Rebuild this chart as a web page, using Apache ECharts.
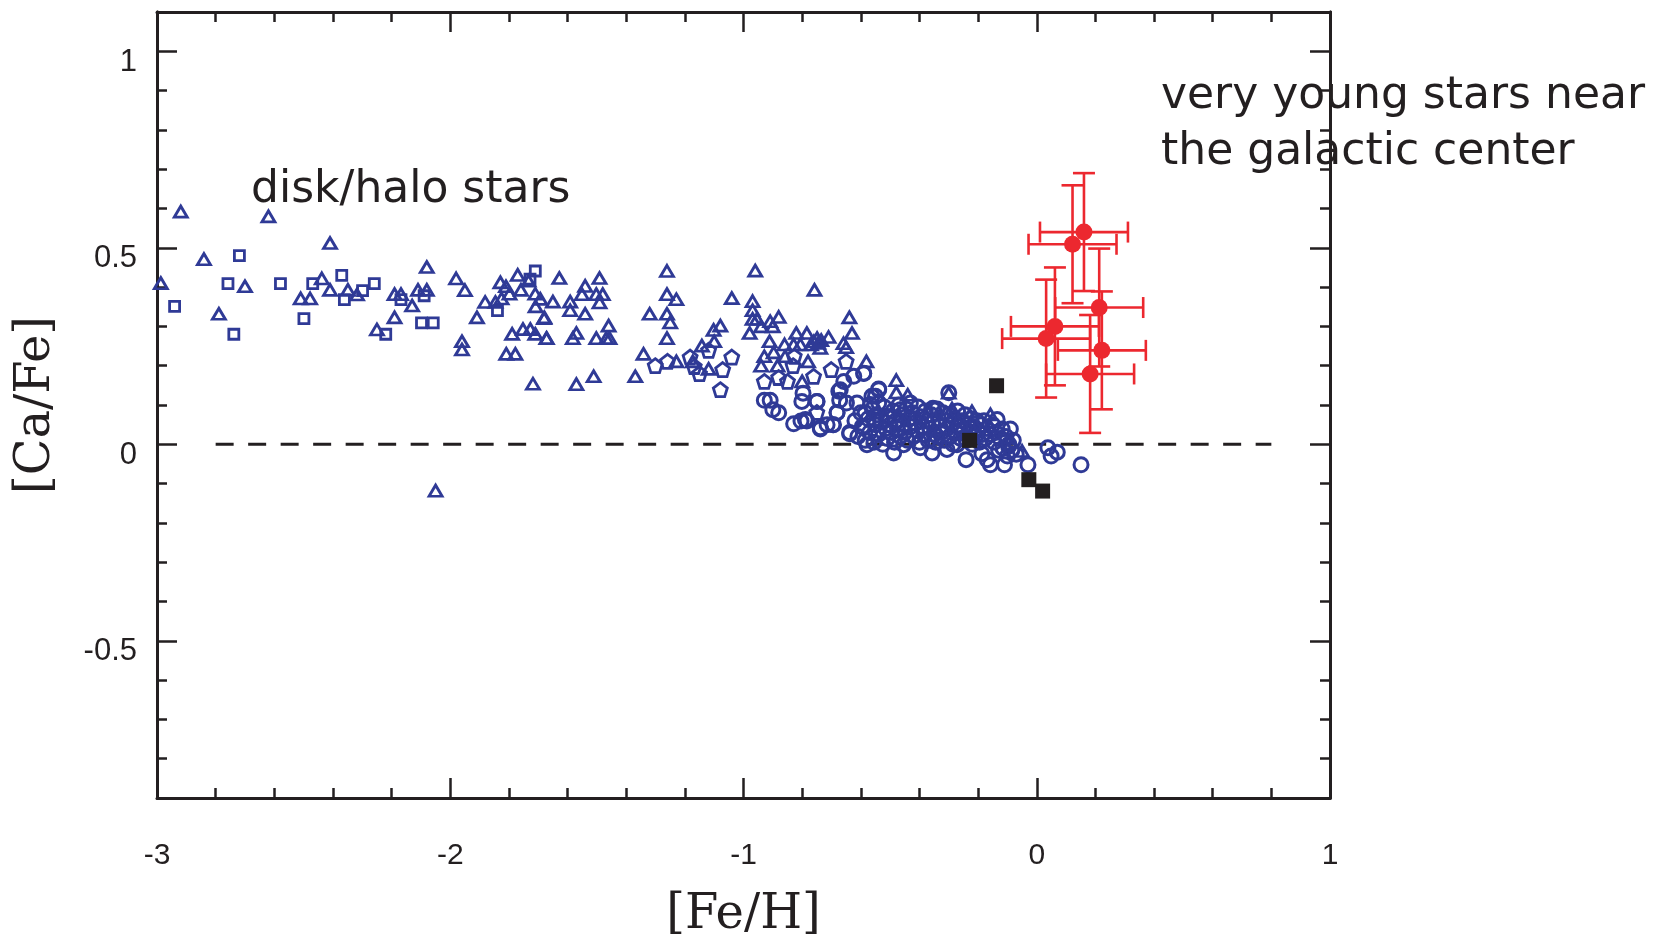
<!DOCTYPE html>
<html>
<head>
<meta charset="utf-8">
<title>[Ca/Fe] vs [Fe/H]</title>
<script src="https://cdn.jsdelivr.net/npm/echarts@6/dist/echarts.min.js"></script>
<style>
  html, body { margin: 0; padding: 0; background: #fff; }
  #chart { width: 1675px; height: 935px; }
</style>
</head>
<body>
<div id="chart"></div>
<script>
// disk/halo stars - open triangles  [Fe/H, Ca/Fe]
const haloTriangles = [
  [-2.919, 0.592], [-2.620, 0.580], [-2.410, 0.512], [-2.840, 0.471], [-2.987, 0.410],
  [-2.700, 0.402], [-2.789, 0.332], [-2.510, 0.371], [-2.478, 0.371], [-2.438, 0.422],
  [-2.410, 0.393], [-2.349, 0.393], [-2.318, 0.381], [-2.250, 0.292], [-2.190, 0.323],
  [-2.190, 0.382], [-2.168, 0.382], [-2.130, 0.353], [-2.110, 0.393], [-2.080, 0.393],
  [-2.080, 0.451], [-1.960, 0.262], [-1.960, 0.241], [-1.980, 0.422], [-1.950, 0.392],
  [-1.909, 0.323], [-1.881, 0.362], [-1.846, 0.362], [-1.829, 0.412], [-1.810, 0.402],
  [-1.825, 0.371], [-1.798, 0.383], [-1.770, 0.431], [-1.759, 0.393], [-1.733, 0.416],
  [-1.710, 0.383], [-1.709, 0.351], [-1.679, 0.323], [-1.789, 0.281], [-1.752, 0.293],
  [-1.727, 0.293], [-1.710, 0.281], [-1.672, 0.270], [-1.809, 0.230], [-1.778, 0.230],
  [-1.718, 0.154], [-2.050, -0.118],
  [-1.628, 0.423], [-1.491, 0.423], [-1.540, 0.403], [-1.551, 0.382], [-1.502, 0.382],
  [-1.480, 0.382], [-1.491, 0.361], [-1.693, 0.370], [-1.650, 0.363], [-1.591, 0.363],
  [-1.591, 0.341], [-1.540, 0.332], [-1.680, 0.321], [-1.460, 0.302], [-1.570, 0.283],
  [-1.582, 0.270], [-1.671, 0.270], [-1.502, 0.270], [-1.468, 0.270], [-1.457, 0.270],
  [-1.570, 0.153], [-1.511, 0.173], [-1.369, 0.173], [-1.261, 0.441], [-1.261, 0.382],
  [-1.229, 0.369], [-1.320, 0.332], [-1.261, 0.332], [-1.250, 0.310], [-1.261, 0.270],
  [-1.341, 0.230], [-1.229, 0.211], [-1.173, 0.211], [-1.119, 0.192], [-1.142, 0.251],
  [-1.100, 0.262], [-1.102, 0.291], [-1.079, 0.302], [-1.040, 0.372], [-0.960, 0.442],
  [-0.969, 0.364], [-0.969, 0.341], [-0.969, 0.319], [-0.954, 0.319], [-0.940, 0.300],
  [-0.979, 0.283], [-0.909, 0.313], [-0.880, 0.324], [-0.900, 0.300], [-0.758, 0.393],
  [-0.911, 0.262], [-0.929, 0.224], [-0.940, 0.200], [-0.897, 0.234], [-0.860, 0.254],
  [-0.820, 0.283], [-0.784, 0.283], [-0.829, 0.254], [-0.806, 0.254], [-0.770, 0.254],
  [-0.749, 0.270], [-0.738, 0.245], [-0.710, 0.273], [-0.639, 0.323], [-0.630, 0.283],
  [-0.659, 0.257], [-0.650, 0.247], [-0.858, 0.224], [-0.884, 0.200], [-0.780, 0.211],
  [-0.581, 0.211], [-0.479, 0.163], [-0.479, 0.132], [-0.440, 0.126], [-0.800, 0.160],
  [-0.760, 0.262], [-0.745, 0.258], [-0.735, 0.265],
  [-0.300, 0.131], [-0.289, 0.091], [-0.221, 0.084], [-0.158, 0.076], [-0.050, -0.017]
];

// open squares
const haloSquares = [
  [-2.719, 0.480], [-2.940, 0.351], [-2.758, 0.409], [-2.738, 0.280], [-2.579, 0.409],
  [-2.499, 0.320], [-2.469, 0.409], [-2.370, 0.430], [-2.361, 0.368], [-2.299, 0.391],
  [-2.259, 0.409], [-2.220, 0.280], [-2.168, 0.368], [-2.098, 0.309], [-2.058, 0.309],
  [-2.089, 0.378], [-1.839, 0.340], [-1.728, 0.420], [-1.710, 0.441]
];

// open pentagons
const haloPentagons = [
  [-1.301, 0.200], [-1.259, 0.211], [-1.182, 0.222], [-1.168, 0.198], [-1.150, 0.180],
  [-1.119, 0.239], [-1.071, 0.190], [-1.040, 0.222], [-1.079, 0.139], [-0.929, 0.160],
  [-0.880, 0.170], [-0.850, 0.160], [-0.827, 0.224], [-0.831, 0.200], [-0.761, 0.173],
  [-0.750, 0.081], [-0.701, 0.190], [-0.650, 0.211]
];

// open circles (thin disk)
const diskCircles = [
  [-0.929, 0.112], [-0.909, 0.112], [-0.900, 0.088], [-0.880, 0.080], [-0.829, 0.052],
  [-0.804, 0.059], [-0.784, 0.059], [-0.801, 0.109], [-0.797, 0.130], [-0.750, 0.109],
  [-0.738, 0.039], [-0.715, 0.050], [-0.695, 0.050], [-0.681, 0.081], [-0.672, 0.112],
  [-0.670, 0.139], [-0.658, 0.160], [-0.624, 0.173], [-0.590, 0.180], [-0.638, 0.030],
  [-0.649, 0.105], [-0.613, 0.105], [-0.585, 0.080], [-0.539, 0.141], [-0.562, 0.122],
  [-0.539, 0.105], [-0.556, 0.063], [-0.590, 0.042], [-0.511, 0.071], [-0.465, 0.088],
  [-0.431, 0.105], [-0.354, 0.092],
  [-0.300, 0.131], [-0.118, 0.039], [-0.090, 0.039], [-0.135, 0.063], [-0.241, -0.039],
  [-0.169, -0.039], [-0.158, -0.052], [-0.110, -0.052], [-0.030, -0.052], [0.038, -0.009],
  [0.070, -0.020], [0.049, -0.030], [0.151, -0.052], [-0.187, -0.024], [-0.096, -0.005],
  [-0.351, 0.088], [-0.357, -0.022], [-0.306, -0.013], [-0.488, -0.022], [-0.579, -0.001],
  [-0.539, 0.139], [-0.638, 0.027], [-0.681, 0.080], [-0.749, 0.109], [-0.789, 0.063],
  [-0.738, 0.042], [-0.693, 0.050], [-0.675, 0.135], [-0.590, 0.181], [-0.550, 0.122],
  [-0.567, 0.101], [-0.431, 0.067], [-0.340, 0.020], [-0.260, 0.046], [-0.226, 0.041],
  [-0.272, -0.001], [-0.397, -0.009], [-0.454, -0.001],
  [-0.620, 0.060], [-0.610, 0.020], [-0.600, 0.080], [-0.595, 0.045], [-0.585, 0.010],
  [-0.575, 0.065], [-0.570, 0.030], [-0.560, 0.090], [-0.555, 0.005], [-0.550, 0.050],
  [-0.545, 0.075], [-0.540, 0.025], [-0.530, 0.060], [-0.525, 0.000], [-0.520, 0.095],
  [-0.515, 0.040], [-0.510, 0.015], [-0.505, 0.070], [-0.500, 0.050], [-0.495, 0.030],
  [-0.490, 0.085], [-0.485, 0.005], [-0.480, 0.060], [-0.475, 0.040], [-0.470, 0.100],
  [-0.465, 0.020], [-0.460, 0.075], [-0.455, 0.050], [-0.450, 0.030], [-0.445, 0.090],
  [-0.440, 0.010], [-0.435, 0.065], [-0.430, 0.045], [-0.425, 0.080], [-0.420, 0.020],
  [-0.415, 0.055], [-0.410, 0.035], [-0.405, 0.095], [-0.400, 0.005], [-0.395, 0.070],
  [-0.390, 0.045], [-0.385, 0.025], [-0.380, 0.085], [-0.375, 0.060], [-0.370, 0.010],
  [-0.365, 0.040], [-0.360, 0.075], [-0.355, 0.055], [-0.350, 0.025], [-0.345, 0.005],
  [-0.340, 0.090], [-0.335, 0.065], [-0.330, 0.045], [-0.325, 0.030], [-0.320, 0.080],
  [-0.315, 0.010], [-0.310, 0.060], [-0.305, 0.040], [-0.300, 0.075], [-0.295, 0.020],
  [-0.290, 0.050], [-0.285, 0.000], [-0.280, 0.065], [-0.275, 0.030], [-0.270, 0.085],
  [-0.265, 0.045], [-0.260, 0.015], [-0.255, 0.060], [-0.250, 0.035], [-0.245, 0.075],
  [-0.240, 0.010], [-0.235, 0.050], [-0.230, 0.030], [-0.225, 0.065], [-0.220, 0.000],
  [-0.215, 0.045], [-0.210, 0.020], [-0.205, 0.060], [-0.200, 0.035], [-0.195, 0.005],
  [-0.190, 0.050], [-0.185, 0.025], [-0.180, 0.060], [-0.175, 0.015], [-0.170, 0.040],
  [-0.160, 0.025], [-0.150, 0.050], [-0.145, 0.005], [-0.140, 0.030], [-0.130, -0.015],
  [-0.125, 0.015], [-0.115, -0.010], [-0.105, 0.020], [-0.100, -0.030], [-0.095, 0.000],
  [-0.085, -0.015], [-0.080, 0.010], [-0.070, -0.025]
];

// filled black squares
const blackSquares = [[-0.137, 0.149], [-0.229, 0.010], [-0.027, -0.090], [0.020, -0.119]];

// very young stars near the galactic center (with error bars)
const youngFeH  = [0.161, 0.122, 0.213, 0.062, 0.032, 0.222, 0.182];
const youngCaFe = [0.540, 0.509, 0.348, 0.300, 0.269, 0.239, 0.179];
const youngErr  = [0.15, 0.15, 0.15, 0.15, 0.15, 0.15, 0.15];

// solar reference line
const solarLine = [[-2.8, 0], [0.8, 0]];

const yMajor = [-0.5, 0, 0.5, 1];

const BLUE = '#2F3A96';
const RED = '#EC282F';
const INK = '#231F20';
const PENTAGON = 'path://M50 0 L100 36.3 L80.9 95.1 L19.1 95.1 L0 36.3 Z';

const chart = echarts.init(document.getElementById('chart'));

const axisLine = { show: true, onZero: false, lineStyle: { color: INK, width: 3 } };
const tickStyle = { color: INK, width: 2.5 };

function xAx(pos, showLabel) {
  return {
    type: 'value', position: pos, min: -3, max: 1, interval: 1,
    axisLine: axisLine,
    axisTick: { show: true, inside: true, length: 20, lineStyle: tickStyle },
    minorTick: { show: true, splitNumber: 5, length: 10, lineStyle: tickStyle },
    splitLine: { show: false },
    axisLabel: showLabel ? {
      show: true, margin: 43, fontSize: 30, color: INK, fontFamily: 'Liberation Sans'
    } : { show: false }
  };
}

function yAx(pos, major, withLabel) {
  const ax = {
    type: 'value', position: pos, min: -0.9, max: 1.1,
    axisLine: axisLine,
    splitLine: { show: false },
    axisLabel: { show: false }
  };
  if (major) {
    ax.interval = 0.5;
    ax.axisTick = { show: true, inside: true, length: 20, lineStyle: tickStyle, customValues: yMajor };
  } else {
    ax.interval = 0.1;
    ax.axisTick = { show: true, inside: true, length: 10, lineStyle: tickStyle };
  }
  if (withLabel) {
    ax.axisLabel = {
      show: true, customValues: yMajor, margin: 20, fontSize: 31, color: INK,
      fontFamily: 'Liberation Sans', verticalAlign: 'top', lineHeight: 22
    };
  }
  return ax;
}

const xBottom = xAx('bottom', true);
xBottom.name = '[Fe/H]';
xBottom.nameLocation = 'middle';
xBottom.nameGap = 94;
xBottom.nameTextStyle = { fontFamily: 'DejaVu Serif', fontSize: 48, color: INK };

const yLeft = yAx('left', true, true);
yLeft.name = '[Ca/Fe]';
yLeft.nameLocation = 'middle';
yLeft.nameRotate = 90;
yLeft.nameGap = 96;
yLeft.nameTextStyle = { fontFamily: 'DejaVu Serif', fontSize: 48, color: INK };

function hollow(name, data, symbol, size, stroke) {
  return {
    name: name, type: 'scatter', data: data, symbol: symbol, symbolSize: size,
    itemStyle: { color: 'rgba(0,0,0,0)', borderColor: BLUE, borderWidth: stroke, opacity: 1 },
    z: 3, silent: true
  };
}

const youngData = youngFeH.map((x, i) => [x, youngCaFe[i], youngErr[i]]);
const labelFont = '44px "DejaVu Sans"';

chart.setOption({
  animation: false,
  backgroundColor: '#fff',
  grid: { left: 157, right: 345, top: 12, bottom: 137, outerBoundsMode: 'none', containLabel: false },
  xAxis: [xBottom, xAx('top', false)],
  yAxis: [yLeft, yAx('left', false, false), yAx('right', true, false), yAx('right', false, false)],
  graphic: [
    { type: 'text', x: 251, y: 191, style: { text: 'disk/halo stars', font: labelFont, fill: INK, verticalAlign: 'middle' } },
    { type: 'text', x: 1161, y: 97, style: { text: 'very young stars near', font: labelFont, fill: INK, verticalAlign: 'middle' } },
    { type: 'text', x: 1161, y: 153, style: { text: 'the galactic center', font: labelFont, fill: INK, verticalAlign: 'middle' } }
  ],
  series: [
    {
      type: 'line', data: solarLine, symbol: 'none', silent: true, z: 1,
      lineStyle: { color: INK, width: 3, type: [18, 14.5] }
    },
    hollow('triangles', haloTriangles, 'triangle', [13, 11], 2.8),
    hollow('squares', haloSquares, 'rect', [10, 10], 2.8),
    hollow('pentagons', haloPentagons, PENTAGON, [14, 14], 2.8),
    hollow('circles', diskCircles, 'circle', 14, 3),
    {
      type: 'scatter', data: blackSquares, symbol: 'rect', symbolSize: 15,
      itemStyle: { color: INK, opacity: 1 }, z: 4, silent: true
    },
    {
      type: 'custom', data: youngData, z: 5, silent: true,
      renderItem: function (params, api) {
        const x = api.value(0), y = api.value(1), e = api.value(2);
        const l = api.coord([x - e, y]), r = api.coord([x + e, y]);
        const t = api.coord([x, y + e]), b = api.coord([x, y - e]);
        const st = { stroke: RED, lineWidth: 2.6 };
        const seg = (x1, y1, x2, y2) => ({ type: 'line', shape: { x1, y1, x2, y2 }, style: st });
        return {
          type: 'group',
          children: [
            seg(l[0], l[1], r[0], r[1]),
            seg(t[0], t[1], b[0], b[1]),
            seg(l[0], l[1] - 10.5, l[0], l[1] + 10.5),
            seg(r[0], r[1] - 10.5, r[0], r[1] + 10.5),
            seg(t[0] - 11, t[1], t[0] + 11, t[1]),
            seg(b[0] - 11, b[1], b[0] + 11, b[1])
          ]
        };
      }
    },
    {
      type: 'scatter', data: youngData, symbol: 'circle', symbolSize: 17,
      itemStyle: { color: RED, opacity: 1 }, z: 6, silent: true
    }
  ]
});
</script>
</body>
</html>
